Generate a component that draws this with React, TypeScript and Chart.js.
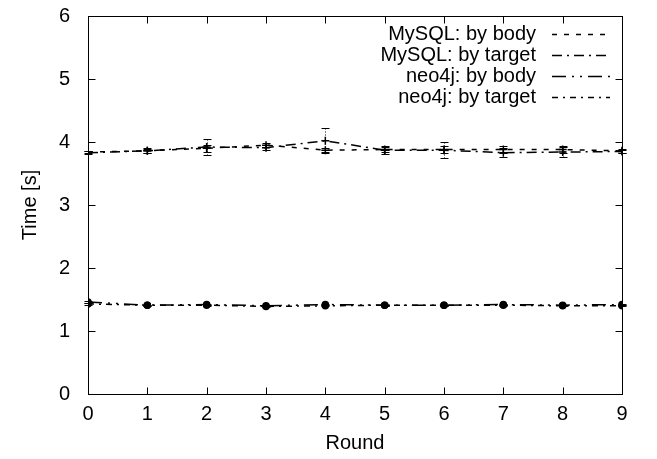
import React, { useEffect, useRef } from "react";
import { Chart, registerables } from "chart.js";

Chart.register(...registerables);

const rounds = [0, 1, 2, 3, 4, 5, 6, 7, 8, 9];
const yTicks = [0, 1, 2, 3, 4, 5, 6];
const seriesNames = ["MySQL: by body", "MySQL: by target", "neo4j: by body", "neo4j: by target"];

const mysqlBody = [3.84, 3.86, 3.9, 3.95, 3.87, 3.88, 3.88, 3.88, 3.88, 3.86];
const mysqlBodyErr = [0.02, 0.03, 0.06, 0.03, 0.03, 0.04, 0.05, 0.05, 0.05, 0.03];
const mysqlTarget = [3.83, 3.86, 3.92, 3.91, 4.02, 3.87, 3.87, 3.83, 3.84, 3.85];
const mysqlTargetErr = [0.02, 0.04, 0.12, 0.04, 0.2, 0.06, 0.13, 0.07, 0.08, 0.03];
const neo4jBody = [1.46, 1.41, 1.42, 1.4, 1.42, 1.41, 1.41, 1.42, 1.41, 1.42];
const neo4jBodyErr = [0.01, 0.01, 0.01, 0.01, 0.01, 0.01, 0.01, 0.01, 0.01, 0.01];
const neo4jTarget = [1.43, 1.41, 1.41, 1.39, 1.4, 1.41, 1.41, 1.41, 1.4, 1.4];
const neo4jTargetErr = [0.01, 0.01, 0.01, 0.01, 0.01, 0.01, 0.01, 0.01, 0.01, 0.01];

const dashes = [[5, 7], [10, 5, 2, 5], [14, 6, 2, 6, 2, 6], [6, 5, 2, 5]];
const FONT = "'Liberation Sans', Arial, Helvetica, sans-serif";

const errorBarPlugin = {
  id: "errorBars",
  beforeDatasetsDraw(chart: any) {
    const { ctx, scales } = chart;
    const xs = scales.x;
    const ys = scales.y;
    chart.data.datasets.forEach((ds: any) => {
      if (!ds.errors) return;
      ctx.save();
      ctx.strokeStyle = "#000";
      ctx.lineWidth = 1;
      ds.data.forEach((p: any, i: number) => {
        const e = ds.errors[i];
        const x = Math.round(xs.getPixelForValue(p.x)) + 0.5;
        const yt = Math.round(ys.getPixelForValue(p.y + e)) + 0.5;
        const yb = Math.round(ys.getPixelForValue(p.y - e)) + 0.5;
        ctx.setLineDash([1, 2]);
        ctx.beginPath();
        ctx.moveTo(x, yt);
        ctx.lineTo(x, yb);
        ctx.stroke();
        ctx.setLineDash([]);
        ctx.beginPath();
        ctx.moveTo(x - 4, yt);
        ctx.lineTo(x + 4, yt);
        ctx.moveTo(x - 4, yb);
        ctx.lineTo(x + 4, yb);
        ctx.stroke();
      });
      ctx.restore();
    });
  },
};

const framePlugin = {
  id: "frame",
  afterDraw(chart: any) {
    const { ctx, chartArea: a, scales } = chart;
    ctx.save();
    ctx.strokeStyle = "#000";
    ctx.lineWidth = 1;
    ctx.setLineDash([]);
    const L = Math.round(a.left) + 0.5;
    const R = Math.round(a.right) + 0.5;
    const T = Math.round(a.top) + 0.5;
    const B = Math.round(a.bottom) + 0.5;
    ctx.strokeRect(L, T, R - L, B - T);
    const tl = 7;
    ctx.beginPath();
    rounds.forEach((v) => {
      const x = Math.round(scales.x.getPixelForValue(v)) + 0.5;
      ctx.moveTo(x, B);
      ctx.lineTo(x, B - tl);
      ctx.moveTo(x, T);
      ctx.lineTo(x, T + tl);
    });
    yTicks.forEach((v) => {
      const y = Math.round(scales.y.getPixelForValue(v)) + 0.5;
      ctx.moveTo(L, y);
      ctx.lineTo(L + tl, y);
      ctx.moveTo(R, y);
      ctx.lineTo(R - tl, y);
    });
    ctx.stroke();

    // legend (gnuplot style: right-aligned text, sample to the right)
    ctx.font = `20px ${FONT}`;
    ctx.fillStyle = "#000";
    ctx.textAlign = "right";
    ctx.textBaseline = "middle";
    const textRight = a.right - 86;
    const sx0 = a.right - 70;
    const sx1 = a.right - 12;
    chart.data.datasets.forEach((ds: any, i: number) => {
      const y = a.top + 18 + i * 21;
      ctx.fillText(ds.label, textRight, y);
      ctx.save();
      ctx.lineWidth = 1.5;
      ctx.setLineDash(ds.borderDash);
      ctx.beginPath();
      ctx.moveTo(sx0, Math.round(y) + 0.5);
      ctx.lineTo(sx1, Math.round(y) + 0.5);
      ctx.stroke();
      ctx.restore();
    });
    ctx.restore();
  },
};

function toPts(vals: number[]) {
  return rounds.map((r, i) => ({ x: r, y: vals[i] }));
}

export default function App() {
  const ref = useRef<HTMLCanvasElement>(null);
  useEffect(() => {
    document.body.style.margin = "0";
    const canvas = ref.current!;
    const mk = (idx: number, vals: number[], errs: number[], style: string, radius: number) => ({
      label: seriesNames[idx],
      data: toPts(vals),
      errors: errs,
      borderColor: "#000",
      backgroundColor: "#000",
      borderWidth: 1.5,
      borderDash: dashes[idx],
      pointStyle: style,
      pointRadius: radius,
      pointBorderWidth: 1.5,
      pointBackgroundColor: "#000",
      pointBorderColor: "#000",
      fill: false,
      tension: 0,
    });
    const chart = new Chart(canvas, {
      type: "line",
      data: {
        datasets: [
          mk(0, mysqlBody, mysqlBodyErr, "cross", 4),
          mk(1, mysqlTarget, mysqlTargetErr, "cross", 4),
          mk(2, neo4jBody, neo4jBodyErr, "circle", 3),
          mk(3, neo4jTarget, neo4jTargetErr, "circle", 3),
        ] as any,
      },
      options: {
        responsive: false,
        animation: false,
        layout: { padding: { top: 0, right: 35, left: 0, bottom: 0 } },
        plugins: { legend: { display: false }, tooltip: { enabled: false } },
        scales: {
          x: {
            type: "linear",
            min: 0,
            max: 9,
            grid: { display: false },
            border: { display: false },
            ticks: {
              stepSize: 1,
              color: "#000",
              padding: 0,
              font: { family: FONT, size: 20 },
              maxRotation: 0,
            },
            title: {
              display: true,
              text: "Round",
              color: "#000",
              font: { family: FONT, size: 20 },
              padding: { top: 0, bottom: 4 },
            },
            afterFit: (s: any) => {
              s.height = 65;
              s.paddingLeft = 0;
              s.paddingRight = 0;
            },
          },
          y: {
            type: "linear",
            min: 0,
            max: 6,
            grid: { display: false },
            border: { display: false },
            ticks: {
              stepSize: 1,
              color: "#000",
              padding: 10,
              font: { family: FONT, size: 20 },
            },
            title: {
              display: true,
              text: "Time [s]",
              color: "#000",
              font: { family: FONT, size: 20 },
              padding: { top: 18, bottom: 0 },
            },
            afterFit: (s: any) => {
              s.width = 88;
              s.paddingTop = 16;
              s.paddingBottom = 0;
            },
          },
        },
      },
      plugins: [errorBarPlugin, framePlugin],
    });
    return () => chart.destroy();
  }, []);
  return <canvas ref={ref} width={657} height={459} style={{ display: "block" }} />;
}
